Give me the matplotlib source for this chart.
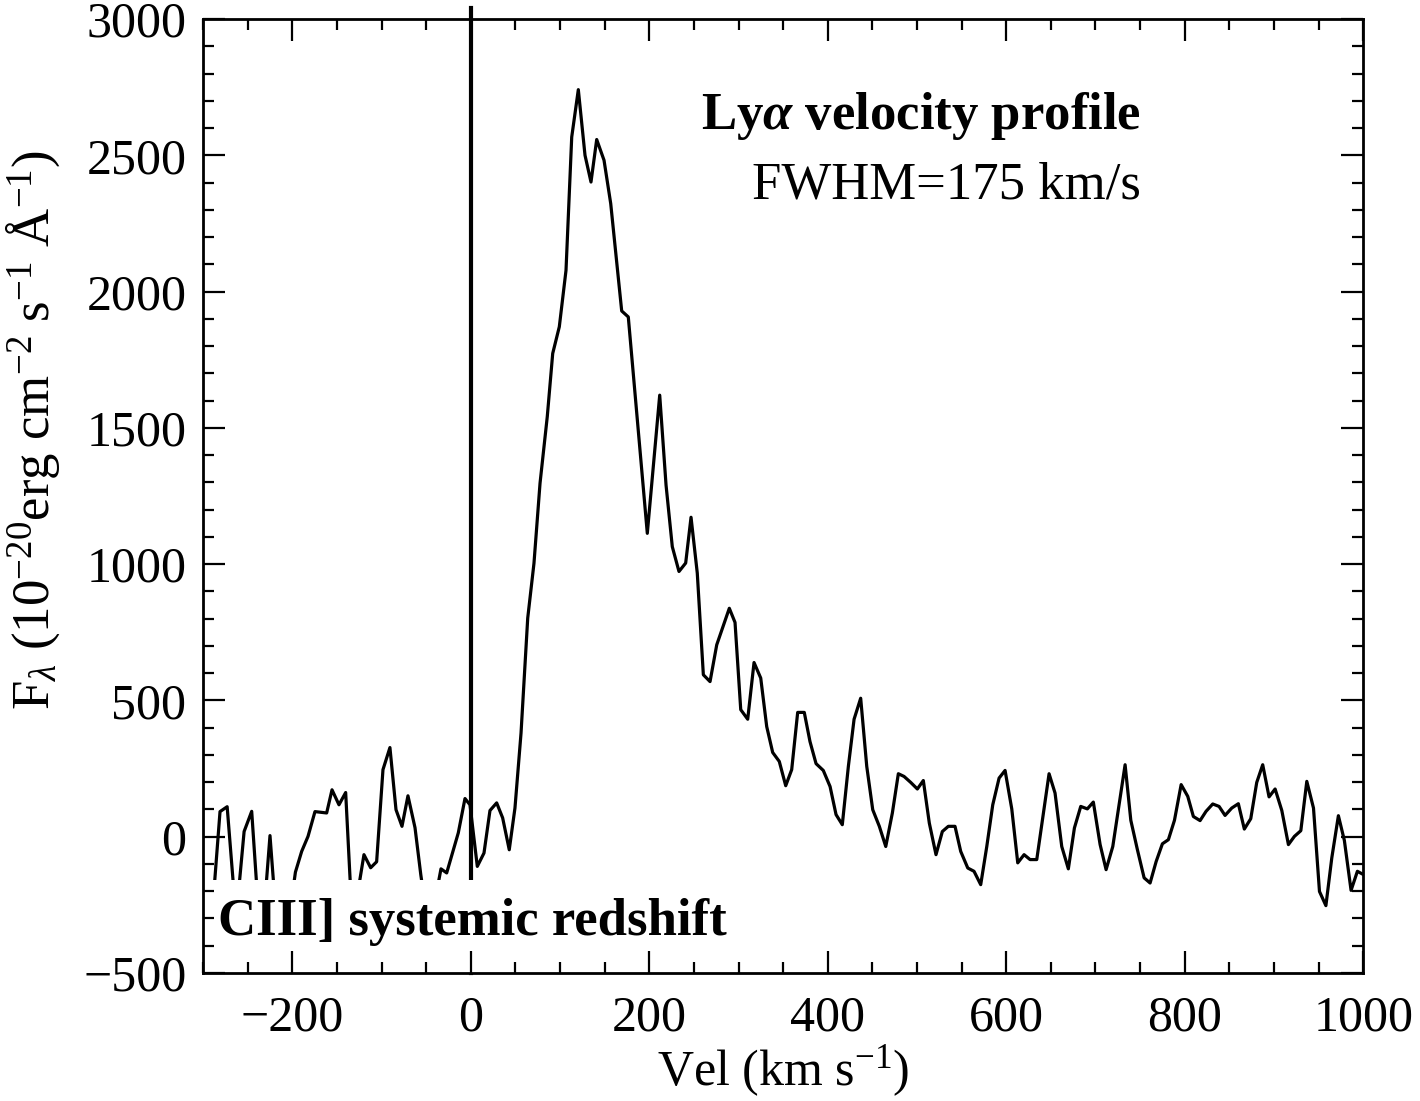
import matplotlib
matplotlib.use("Agg")
import matplotlib.pyplot as plt
from matplotlib.patches import Rectangle

plt.rcParams['font.family'] = ['Liberation Serif', 'DejaVu Serif']
plt.rcParams['mathtext.fontset'] = 'custom'
plt.rcParams['mathtext.rm'] = 'Liberation Serif'
plt.rcParams['mathtext.it'] = 'Liberation Serif:italic'
plt.rcParams['mathtext.bf'] = 'Liberation Serif:bold:italic'

# Ly-alpha profile (km/s, flux in 1e-20 cgs)
vel = [-305, -289, -281, -273, -263, -254, -245.5, -237, -231, -225, -218,
       -210.5, -203.7, -196.5, -189.5, -182.4, -174.6, -161.5, -155.5, -147.7, -140.2,
       -133, -126.4, -119.7, -112.2, -105.5, -98.4, -90.6, -83.8, -77.1, -70.4,
       -62.5, -56, -49, -41, -33.4, -27, -14, -6.5, -0.9, 7.3,
       14.8, 21.5, 29, 35.7, 43.1, 49.5, 56.3, 63.8, 70.8, 77.6,
       85.7, 91.8, 99.2, 106.7, 113.1, 120.5, 128, 134.7, 141.1, 149.3,
       156.8, 169.1, 176.5, 197.8, 211.7, 218.8, 225.8, 233.3, 240.8, 246.8,
       253.8, 260.6, 268.1, 275.6, 289.7, 296.1, 302.5, 310.3, 317.4, 324.9,
       331.6, 338.3, 345.7, 352.9, 359.6, 366.3, 373.7, 380.1, 386.9, 395,
       402.6, 409.3, 416.3, 423.1, 429.5, 436.9, 443.7, 450.4, 457.8, 465,
       472.4, 479.1, 485.5, 493, 500.4, 507.1, 513.8, 521.3, 528.4, 535.1,
       542.6, 549, 556.9, 563.9, 571.4, 578.2, 584.9, 592, 598.7, 606.2,
       612.9, 620, 626.7, 634.2, 648, 654.7, 662.2, 669.6, 676.4, 683.5,
       690.9, 697.6, 705.2, 711.9, 719.4, 733.2, 739.6, 747, 754.5, 761.2,
       768, 775, 781.7, 788.5, 796, 803.4, 809.7, 817.2, 823.9, 831.4,
       838.5, 845.2, 852.7, 860.1, 866.8, 874, 880.7, 887.4, 894.5, 901.3,
       908.8, 916.2, 922.9, 930.1, 936.8, 944.3, 951, 958.2, 964.8, 972.2,
       978.9, 986.4, 993.5, 1000.2, 1006]
flux = [-350, -250, 92, 110, -300, 19, 93, -320, -250, 4, -300,
        -380, -300, -130, -54, 1, 92, 87, 172, 117, 162,
        -300, -200, -66, -114, -92, 246, 327, 99, 38, 150,
        33, -140, -300, -250, -118, -133, 14, 140, 117, -109,
        -60, 96, 124, 69, -48, 105, 380, 802, 1003, 1297,
        1541, 1773, 1871, 2078, 2567, 2741, 2500, 2402, 2558, 2482,
        2323, 1929, 1907, 1113, 1620, 1290, 1064, 973, 1004, 1172,
        967, 594, 569, 704, 838, 786, 466, 431, 639, 582,
        404, 309, 276, 187, 246, 456, 456, 349, 268, 243,
        184, 81, 44, 258, 431, 508, 258, 99, 38, -36,
        87, 231, 221, 199, 175, 206, 50, -66, 19, 38,
        38, -54, -115, -127, -176, -36, 117, 215, 243, 102,
        -96, -66, -84, -84, 231, 160, -36, -118, 32, 111,
        102, 127, -29, -121, -36, 264, 60, -48, -151, -170,
        -91, -26, -11, 60, 191, 148, 74, 59, 93, 120,
        111, 78, 105, 121, 28, 66, 199, 264, 146, 175,
        96, -29, 1, 22, 203, 105, -201, -253, -78, 77,
        -14, -197, -127, -139, -150]

fig = plt.figure(figsize=(14.2, 11.01), dpi=100)
ax = fig.add_axes([0.143, 0.1163, 0.817, 0.8664])

ax.plot(vel, flux, color='black', lw=2.3, zorder=2)
# systemic redshift marker, pokes a bit above the frame
ax.plot([0, 0], [-500, 3040], color='black', lw=3, clip_on=False, zorder=2)

ax.set_axisbelow(False)
ax.add_patch(Rectangle((-300, -500), 602, 342, facecolor='white',
                       edgecolor='none', zorder=2.2))

ax.set_xlim(-300, 1000)
ax.set_ylim(-500, 3000)
ax.set_xticks([-200, 0, 200, 400, 600, 800, 1000])
ax.set_xticklabels(['\u2212200', '0', '200', '400', '600', '800', '1000'])
ax.set_yticks([-500, 0, 500, 1000, 1500, 2000, 2500, 3000])
ax.set_yticklabels(['\u2212500', '0', '500', '1000', '1500', '2000', '2500', '3000'])
ax.xaxis.set_minor_locator(matplotlib.ticker.MultipleLocator(50))
ax.yaxis.set_minor_locator(matplotlib.ticker.MultipleLocator(100))
ax.tick_params(which='both', direction='in', top=True, right=True,
               labelsize=36, width=1.6)
ax.tick_params(axis='x', which='major', length=16, pad=16)
ax.tick_params(axis='y', which='major', length=16, pad=12)
ax.tick_params(which='minor', length=8)
for s in ax.spines.values():
    s.set_linewidth(2)

ax.set_xlabel(r'Vel (km s$^{-1}$)', fontsize=36, labelpad=1)
ax.set_ylabel(r'F$_\lambda$ (10$^{-20}$erg cm$^{-2}$ s$^{-1}$ Å$^{-1}$)', fontsize=38)
ax.yaxis.set_label_coords(-0.122, 0.569)

ax.text(0.808, 0.885, r'Ly$\mathbf{\alpha}$ velocity profile', transform=ax.transAxes,
        ha='right', va='baseline', fontsize=38, fontweight='bold', zorder=3)
ax.text(0.808, 0.812, 'FWHM=175 km/s', transform=ax.transAxes,
        ha='right', va='baseline', fontsize=38, zorder=3)
ax.text(0.013, 0.040, 'CIII] systemic redshift', transform=ax.transAxes,
        ha='left', va='baseline', fontsize=38, fontweight='bold', zorder=3)

fig.savefig('out.png', dpi=100)
